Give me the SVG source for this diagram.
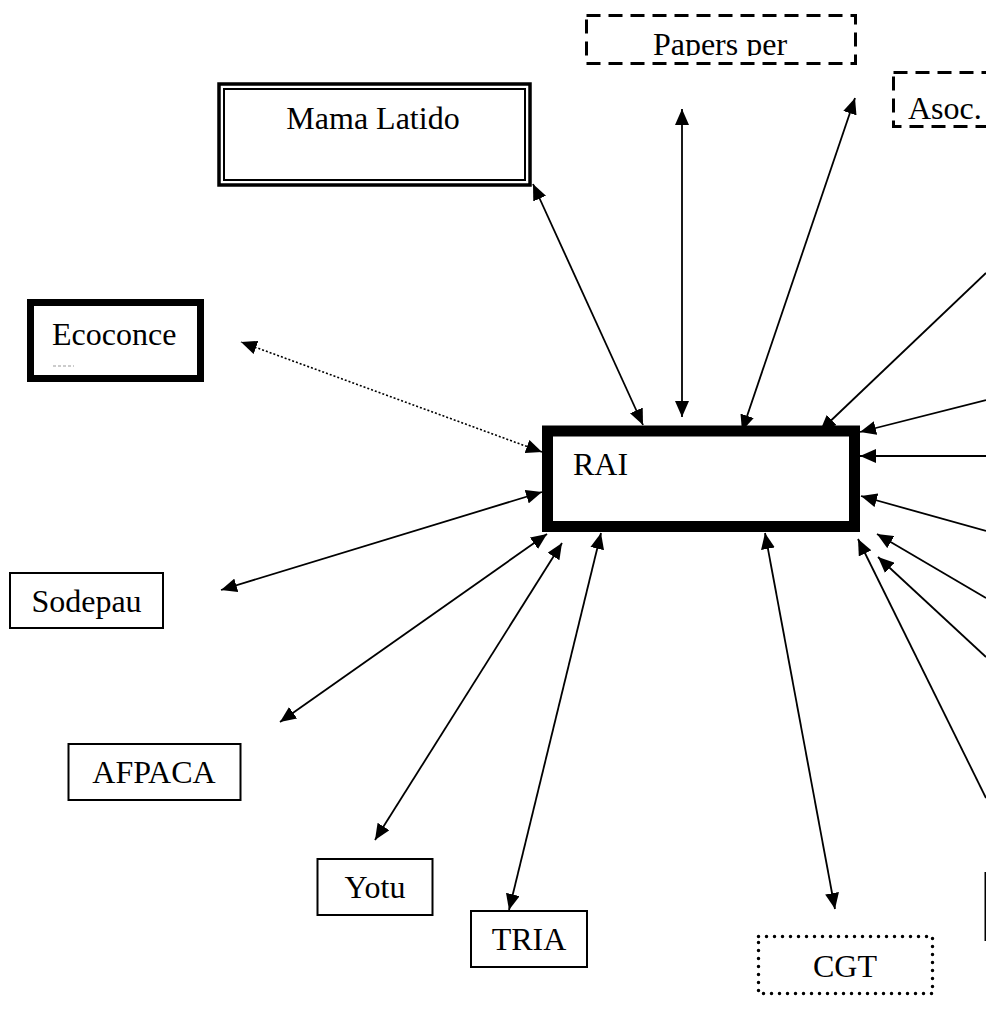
<svg xmlns="http://www.w3.org/2000/svg" width="986" height="1012" viewBox="0 0 986 1012">
<style>
text{font-family:"Liberation Serif","Times New Roman",serif;font-size:32px;fill:#000}
.box{fill:#fff;stroke:#000;stroke-width:2}
.dash{fill:#fff;stroke:#000;stroke-width:3;stroke-dasharray:14 8}
.dot{fill:#fff;stroke:#000;stroke-width:3.5;stroke-dasharray:0 8;stroke-linecap:round}
.c{fill:none;stroke:#000;stroke-width:1.8}
.a2{marker-start:url(#ah);marker-end:url(#ah)}
.a1{marker-end:url(#ah)}
</style>
<defs>
<marker id="ah" markerUnits="userSpaceOnUse" markerWidth="16" markerHeight="14" refX="16" refY="7" orient="auto-start-reverse" viewBox="0 0 16 14">
<path d="M0,0 L16,7 L0,14 z" fill="#000"/>
</marker>
<clipPath id="papclip"><rect x="585" y="14" width="272" height="42"/></clipPath>
</defs>
<rect width="986" height="1012" fill="#fff"/>
<g id="connectors">
<line class="c a2" x1="533" y1="184" x2="643" y2="425"/>
<line class="c a2" x1="682" y1="109" x2="682" y2="417"/>
<line class="c a2" x1="855" y1="98" x2="742" y2="431"/>
<line class="c a1" x1="986" y1="273" x2="820" y2="431"/>
<line class="c a1" x1="986" y1="400" x2="860" y2="432"/>
<line class="c a1" x1="986" y1="456" x2="860" y2="456"/>
<line class="c a1" x1="986" y1="531" x2="861" y2="496"/>
<line class="c a1" x1="986" y1="598" x2="877" y2="534"/>
<line class="c a1" x1="986" y1="657" x2="878" y2="557"/>
<line class="c a1" x1="986" y1="798" x2="858" y2="539"/>
<line class="c a2" x1="765" y1="533" x2="835" y2="909"/>
<line class="c a2" x1="601" y1="533" x2="509" y2="910"/>
<line class="c a2" x1="562" y1="543" x2="375" y2="840"/>
<line class="c a2" x1="547" y1="534" x2="280" y2="722"/>
<line class="c a2" x1="542" y1="492" x2="221" y2="590"/>
<line class="c a2" x1="542" y1="452" x2="241" y2="342" style="stroke-dasharray:2 2;stroke-width:1.6"/>
</g>
<g id="node-papers">
<rect class="dash" x="586.5" y="15.5" width="269" height="48"/>
<text x="720" y="55" text-anchor="middle" clip-path="url(#papclip)">Papers per</text>
</g>
<g id="node-asoc">
<rect class="dash" x="893.5" y="72.5" width="120" height="54"/>
<text x="908" y="119">Asoc.</text>
</g>
<g id="node-mama">
<rect x="219" y="84" width="311" height="101" fill="#fff" stroke="#000" stroke-width="3.5"/>
<rect x="224" y="89" width="301" height="91" fill="none" stroke="#000" stroke-width="2"/>
<text x="373" y="129" text-anchor="middle">Mama Latido</text>
</g>
<g id="node-ecoconce">
<rect x="30.5" y="302.5" width="170" height="76" fill="#fff" stroke="#000" stroke-width="7"/>
<text x="52" y="345">Ecoconce</text>
<line x1="53" y1="366" x2="74" y2="366" stroke="#999" stroke-width="1" stroke-dasharray="3 2"/>
</g>
<g id="node-rai">
<rect x="547.5" y="431" width="307" height="95.5" fill="#fff" stroke="#000" stroke-width="11"/>
<text x="573" y="475">RAI</text>
</g>
<g id="node-sodepau">
<rect class="box" x="10" y="573" width="153" height="55"/>
<text x="86.5" y="612" text-anchor="middle">Sodepau</text>
</g>
<g id="node-afpaca">
<rect class="box" x="68.5" y="744" width="172" height="56"/>
<text x="154" y="783" text-anchor="middle">AFPACA</text>
</g>
<g id="node-yotu">
<rect class="box" x="317.5" y="859" width="115" height="56"/>
<text x="375" y="898" text-anchor="middle">Yotu</text>
</g>
<g id="node-tria">
<rect class="box" x="471" y="911" width="116" height="56"/>
<text x="529" y="950" text-anchor="middle">TRIA</text>
</g>
<g id="node-cgt">
<rect class="dot" x="758.5" y="936.5" width="174" height="57"/>
<text x="845" y="977" text-anchor="middle">CGT</text>
</g>
<g id="node-right">
<rect class="box" x="985.5" y="873" width="60" height="67"/>
</g>
</svg>
